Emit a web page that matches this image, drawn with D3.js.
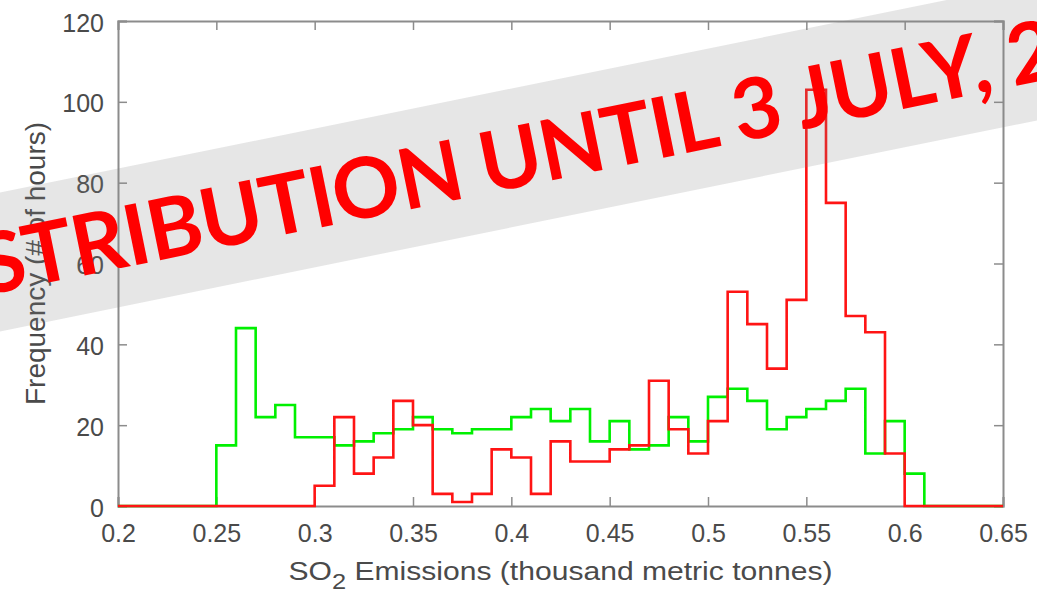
<!DOCTYPE html>
<html>
<head>
<meta charset="utf-8">
<script src="https://d3js.org/d3.v7.min.js"></script>
<style>
  body { margin: 0; background: #fff; }
  svg { display: block; }
</style>
</head>
<body>
<div id="chart"></div>
<script>
// Lower edge of each 0.01 wide bin
var binEdges = [0.20, 0.21, 0.22, 0.23, 0.24, 0.25, 0.26, 0.27, 0.28, 0.29,
                0.30, 0.31, 0.32, 0.33, 0.34, 0.35, 0.36, 0.37, 0.38, 0.39,
                0.40, 0.41, 0.42, 0.43, 0.44, 0.45, 0.46, 0.47, 0.48, 0.49,
                0.50, 0.51, 0.52, 0.53, 0.54, 0.55, 0.56, 0.57, 0.58, 0.59,
                0.60, 0.61, 0.62, 0.63, 0.64];
var lastEdge = 0.65;

// Hours per bin, green series
var greenCounts = [0, 0, 0, 0, 0, 15, 44, 22, 25, 17,
                   17, 15, 16, 18, 19, 22, 19, 18, 19, 19,
                   22, 24, 21, 24, 16, 21, 14, 15, 22, 16,
                   27, 29, 26, 19, 22, 24, 26, 29, 13, 21,
                   8, 0, 0, 0, 0];

// Hours per bin, red series
var redCounts = [0, 0, 0, 0, 0, 0, 0, 0, 0, 0,
                 5, 22, 8, 12, 26, 20, 3, 1, 3, 14,
                 12, 3, 16, 11, 11, 14, 15, 31, 19, 13,
                 21, 53, 45, 34, 51, 103, 75, 47, 43, 13,
                 0, 0, 0, 0, 0];

var xTicks = [0.2, 0.25, 0.3, 0.35, 0.4, 0.45, 0.5, 0.55, 0.6, 0.65];
var yTicks = [0, 20, 40, 60, 80, 100, 120];

var xTitle = "SO";
var xTitleSub = "2";
var xTitleRest = " Emissions (thousand metric tonnes)";
var yTitle = "Frequency (# of hours)";
var stamp = "STRIBUTION UNTIL 3 JULY, 2";

var w = 1037, h = 593;
var margin = { top: 21, right: 34, bottom: 87, left: 118 };
var width = w - margin.left - margin.right;
var height = h - margin.top - margin.bottom;

var axisColor = "#8c8c8c";
var textColor = "#4a4a4a";
var font = "'Liberation Sans', Arial, sans-serif";

var svg = d3.select("#chart")
  .append("svg")
    .attr("width", w)
    .attr("height", h);

var chart = svg.append("g")
  .attr("transform", "translate(" + margin.left + "," + margin.top + ")");

// Scales
var xScale = d3.scaleLinear().domain([0.2, 0.65]).range([0, width]);
var yScale = d3.scaleLinear().domain([0, 120]).range([height, 0]);

// Axes, matlab style: ticks inside on all four sides
var xAxisBottom = d3.axisBottom(xScale).tickValues(xTicks).tickSize(-9).tickFormat(d3.format("~g"));
var xAxisTop = d3.axisTop(xScale).tickValues(xTicks).tickSize(-9).tickFormat("");
var yAxisLeft = d3.axisLeft(yScale).tickValues(yTicks).tickSize(-9);
var yAxisRight = d3.axisRight(yScale).tickValues(yTicks).tickSize(-9).tickFormat("");

var gx = chart.append("g").attr("transform", "translate(0," + height + ")").call(xAxisBottom);
var gxt = chart.append("g").call(xAxisTop);
var gy = chart.append("g").call(yAxisLeft);
var gyr = chart.append("g").attr("transform", "translate(" + width + ",0)").call(yAxisRight);

[gx, gxt, gy, gyr].forEach(function(g) {
  g.selectAll("path").attr("stroke", axisColor).attr("stroke-width", 2);
  g.selectAll("line").attr("stroke", axisColor).attr("stroke-width", 1.5);
});

gx.selectAll("text")
  .attr("fill", textColor)
  .style("font-family", font)
  .style("font-size", "25px")
  .attr("dy", null)
  .attr("y", 36);

gy.selectAll("text")
  .attr("fill", textColor)
  .style("font-family", font)
  .style("font-size", "25px")
  .attr("dy", null)
  .attr("x", -14)
  .attr("y", 10);

// Histogram outlines (stairs)
function stairPoints(counts) {
  var pts = binEdges.map(function(e, i) { return [e, counts[i]]; });
  pts.push([lastEdge, counts[counts.length - 1]]);
  return pts;
}

var stairs = d3.line()
  .x(function(d) { return xScale(d[0]); })
  .y(function(d) { return yScale(d[1]); })
  .curve(d3.curveStepAfter);

chart.append("path")
  .datum(stairPoints(greenCounts))
  .attr("d", stairs)
  .attr("fill", "none")
  .attr("stroke", "#00f000")
  .attr("stroke-width", 2.6);

chart.append("path")
  .datum(stairPoints(redCounts))
  .attr("d", stairs)
  .attr("fill", "none")
  .attr("stroke", "#ff1414")
  .attr("stroke-width", 2.6);

// Axis titles
var xt = svg.append("text")
  .attr("x", margin.left + width / 2)
  .attr("y", 580)
  .attr("text-anchor", "middle")
  .attr("fill", textColor)
  .attr("textLength", 544)
  .attr("lengthAdjust", "spacingAndGlyphs")
  .style("font-family", font)
  .style("font-size", "26px");
xt.append("tspan").text(xTitle);
xt.append("tspan").attr("dy", 9).style("font-size", "22px").text(xTitleSub);
xt.append("tspan").attr("dy", -9).text(xTitleRest);

svg.append("text")
  .attr("transform", "translate(45," + (margin.top + height / 2) + ") rotate(-90)")
  .attr("text-anchor", "middle")
  .attr("fill", textColor)
  .attr("textLength", 283)
  .attr("lengthAdjust", "spacingAndGlyphs")
  .style("font-family", font)
  .style("font-size", "27px")
  .text(yTitle);

// Embargo banner over everything
var banner = svg.append("g")
  .attr("transform", "translate(0,262) rotate(-11.5)");

banner.append("rect")
  .attr("x", -300)
  .attr("y", -68)
  .attr("width", 1700)
  .attr("height", 136)
  .attr("fill", "#808080")
  .attr("fill-opacity", 0.2);

banner.append("text")
  .attr("x", -21)
  .attr("y", 30)
  .attr("fill", "#ff0000")
  .attr("textLength", 1098)
  .attr("lengthAdjust", "spacing")
  .style("font-family", "Lato, 'Open Sans', sans-serif")
  .style("font-weight", "bold")
  .style("font-size", "84px")
  .text(stamp);
</script>
</body>
</html>
